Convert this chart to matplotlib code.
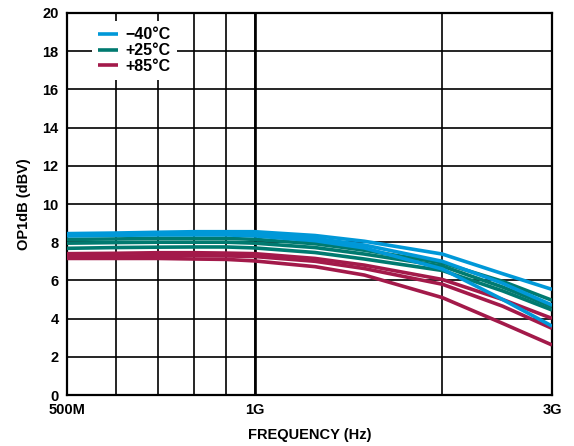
import matplotlib
matplotlib.use('Agg')
import matplotlib.pyplot as plt
import numpy as np

plt.rcParams['font.family'] = ['Liberation Sans', 'DejaVu Sans']
plt.rcParams['font.weight'] = 'bold'

# frequency points (Hz)
freq = [500e6, 600e6, 700e6, 800e6, 900e6, 1e9, 1.25e9, 1.5e9, 2e9, 2.5e9, 3e9]

# OP1dB (dBV), three parts per temperature
cold = [
    [8.45, 8.48, 8.52, 8.55, 8.55, 8.55, 8.35, 8.05, 7.38, 6.35, 5.53],
    [8.40, 8.42, 8.45, 8.47, 8.47, 8.45, 8.20, 7.85, 7.00, 5.85, 4.71],
    [8.33, 8.36, 8.38, 8.38, 8.38, 8.33, 8.08, 7.70, 6.60, 5.00, 3.61],
]
room = [
    [8.15, 8.17, 8.20, 8.20, 8.20, 8.15, 7.92, 7.58, 6.92, 5.95, 4.96],
    [7.95, 7.98, 8.00, 8.00, 8.00, 7.95, 7.72, 7.38, 6.75, 5.65, 4.62],
    [7.68, 7.72, 7.74, 7.75, 7.75, 7.70, 7.46, 7.12, 6.52, 5.45, 4.45],
]
hot = [
    [7.40, 7.42, 7.45, 7.45, 7.43, 7.40, 7.15, 6.80, 6.05, 5.00, 4.01],
    [7.25, 7.27, 7.30, 7.30, 7.28, 7.25, 7.00, 6.62, 5.80, 4.65, 3.49],
    [7.15, 7.15, 7.15, 7.12, 7.10, 7.02, 6.72, 6.28, 5.10, 3.75, 2.62],
]

labels = ['\u221240\u00b0C', '+25\u00b0C', '+85\u00b0C']
colors = ['#0098D8', '#007A70', '#A31A4A']

fig = plt.figure(figsize=(5.74, 4.46), dpi=100)
ax = fig.add_axes([0.1167, 0.1143, 0.845, 0.8566])

# draw hot first so cold lies on top
for group, lab, col in [(hot, labels[2], colors[2]), (room, labels[1], colors[1]), (cold, labels[0], colors[0])]:
    for i, y in enumerate(group):
        ax.plot(freq, y, color=col, lw=2.6, solid_capstyle='butt', label=lab if i == 0 else None, zorder=3)

ax.set_xscale('log')
ax.set_xlim(500e6, 3e9)
ax.set_ylim(0, 20)
ax.set_xticks([500e6, 1e9, 3e9])
ax.set_xticklabels(['500M', '1G', '3G'])
ax.set_xticks([600e6, 700e6, 800e6, 900e6, 2e9], minor=True)
ax.set_xticklabels([], minor=True)
ax.set_yticks(range(0, 21, 2))
ax.tick_params(which='both', length=0, labelsize=10.5, pad=6)
ax.grid(which='both', color='black', lw=1.2, zorder=1)
ax.axvline(1e9, color='black', lw=1.9, zorder=1)
for s in ax.spines.values():
    s.set_linewidth(1.6)

ax.set_xlabel('FREQUENCY (Hz)', fontsize=10.5, fontweight='bold', labelpad=8)
ax.set_ylabel('OP1dB (dBV)', fontsize=10.5, fontweight='bold', labelpad=8)

h, l = ax.get_legend_handles_labels()
order = [2, 1, 0]
leg = ax.legend([h[i] for i in order], [l[i] for i in order], loc='upper left',
                bbox_to_anchor=(0.035, 1.0), fontsize=11.5, handlelength=1.2,
                handletextpad=0.5, labelspacing=0.05, frameon=True,
                fancybox=False, framealpha=1, edgecolor='none', borderpad=0.4)
leg.set_zorder(5)

fig.savefig('out.png', dpi=100)
